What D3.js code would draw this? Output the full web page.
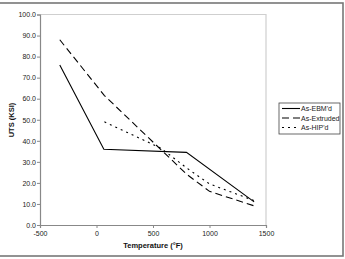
<!DOCTYPE html>
<html><head><meta charset="utf-8">
<script src="https://cdn.jsdelivr.net/npm/d3@7"></script>
<style>body{margin:0;background:#fff}svg{display:block}text{font-family:Arial,"Liberation Sans",sans-serif}</style>
</head><body><svg id="c" width="345" height="259"></svg>
<script>
const seriesNames = ["As-EBM'd", "As-Extruded", "As-HIP'd"];
const ebmTemps = [-325, 65, 796, 1395];
const ebmUTS = [76, 36, 34.5, 11];
const extTemps = [-325, 70, 800, 1000, 1400];
const extUTS = [88, 61.5, 24, 16, 9];
const hipTemps = [70, 570, 800, 1000, 1400];
const hipUTS = [49, 36.5, 27, 19.5, 11.5];
const xTicks = [-500, 0, 500, 1000, 1500];
const yTicks = [0, 10, 20, 30, 40, 50, 60, 70, 80, 90, 100];
const dashes = ["none", "7,4", "2,4"];

const svg = d3.select("#c");
const L = 40, R = 266, T = 14.5, B = 225;
const x = d3.scaleLinear().domain([-500, 1500]).range([L, R]);
const y = d3.scaleLinear().domain([0, 100]).range([B, T]);

// outer frame
svg.append("rect").attr("x", -1).attr("y", 3).attr("width", 344).attr("height", 253)
  .attr("fill", "none").attr("stroke", "#777").attr("stroke-width", 1.6);

// plot border (light)
svg.append("path").attr("d", `M${L},${T}H${R}V${B}`).attr("fill", "none")
  .attr("stroke", "#cfcfcf").attr("stroke-width", 1.2);

const yAxis = svg.append("g").attr("transform", `translate(${L},0)`)
  .call(d3.axisLeft(y).tickValues(yTicks).tickSize(3).tickFormat(d3.format(".1f")));
const xAxis = svg.append("g").attr("transform", `translate(0,${B})`)
  .call(d3.axisBottom(x).tickValues(xTicks).tickSize(3).tickFormat(d => d));
[yAxis, xAxis].forEach(g => {
  g.select(".domain").attr("stroke", "#888").attr("stroke-width", 1.2);
  g.selectAll(".tick line").attr("stroke", "#888");
  g.selectAll("text").attr("font-size", 7).attr("fill", "#222");
});
yAxis.selectAll("text").attr("x", -4);
xAxis.selectAll("text").attr("y", 6);

svg.append("text").attr("x", 153).attr("y", 248).attr("text-anchor", "middle")
  .attr("font-size", 7.5).attr("font-weight", "bold").attr("fill", "#111").text("Temperature (°F)");
svg.append("text").attr("transform", "translate(14,120) rotate(-90)").attr("text-anchor", "middle")
  .attr("font-size", 7.5).attr("font-weight", "bold").attr("fill", "#111").text("UTS (KSI)");

const series = [
  ebmTemps.map((t, i) => [t, ebmUTS[i]]),
  extTemps.map((t, i) => [t, extUTS[i]]),
  hipTemps.map((t, i) => [t, hipUTS[i]])
];
const line = d3.line().x(d => x(d[0])).y(d => y(d[1]));
series.forEach((s, i) => {
  svg.append("path").datum(s).attr("d", line).attr("fill", "none").attr("stroke", "#000")
    .attr("stroke-width", 1.1).attr("stroke-dasharray", dashes[i]);
});

// legend
const lg = svg.append("g");
lg.append("rect").attr("x", 279).attr("y", 103).attr("width", 61).attr("height", 31)
  .attr("fill", "#fff").attr("stroke", "#444").attr("stroke-width", 0.8);
seriesNames.forEach((n, i) => {
  const yy = 108.5 + i * 9.5;
  lg.append("line").attr("x1", 282).attr("x2", 300).attr("y1", yy).attr("y2", yy)
    .attr("stroke", "#000").attr("stroke-width", 1.1).attr("stroke-dasharray", dashes[i]);
  lg.append("text").attr("x", 301).attr("y", yy + 2.5).attr("font-size", 7).attr("fill", "#222").text(n);
});
</script></body></html>
